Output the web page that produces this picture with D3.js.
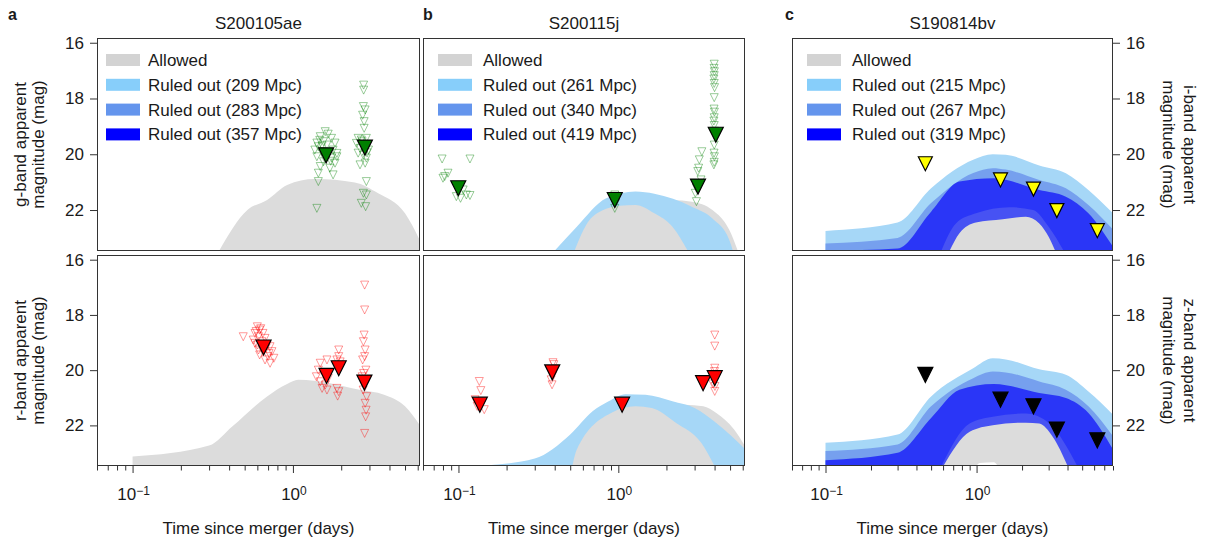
<!DOCTYPE html>
<html>
<head>
<meta charset="utf-8">
<script src="https://cdn.jsdelivr.net/npm/d3@7"></script>
<style>
  body { margin: 0; background: #fff; }
  svg text { font-family: "Liberation Sans", Arial, sans-serif; fill: #1a1a1a; }
</style>
</head>
<body>
<div id="chart"></div>
<script>
// ---------- axes / labels ----------
const magTicks = [16, 18, 20, 22];
const minorTicks = [0.06, 0.07, 0.08, 0.09, 0.2, 0.3, 0.4, 0.5, 0.6, 0.7, 0.8, 0.9, 2, 3, 4, 5, 6, 7, 8];
const majorTicks = [0.1, 1];
const majorExp = ["\u22121", "0"];
const titles = ["S200105ae", "S200115j", "S190814bv"];
const letters = ["a", "b", "c"];
const aDist = [209, 283, 357];
const bDist = [261, 340, 419];
const cDist = [215, 267, 319];

// ---------- a: S200105ae ----------
const aG_allowT = [0.336, 0.52, 0.69, 0.92, 1.37, 2.43, 3.4, 5.0, 6.2];
const aG_allowM = [23.6, 22.0, 21.64, 21.1, 20.89, 21.01, 21.4, 22.12, 23.1];
const aR_allowT = [0.1, 0.3, 0.42, 0.69, 0.92, 1.08, 1.7, 2.6, 3.7, 5.0, 6.2];
const aR_allowM = [23.13, 22.73, 22.03, 20.95, 20.5, 20.35, 20.47, 20.71, 20.89, 21.31, 22.0];

const aG_obsT = [1.59, 1.66, 1.48, 1.74, 1.41, 1.55, 1.83, 1.44, 1.63, 1.37, 1.51, 1.78, 1.88, 1.41, 1.74, 1.55, 1.83, 1.48, 1.70, 1.44, 1.78, 1.44, 1.41, 1.88, 1.63, 1.52, 1.67, 1.58, 1.47, 1.72,
  2.76, 2.76, 2.75, 2.82, 2.78, 2.78, 2.55, 2.67, 2.87, 2.49, 2.82, 2.62, 2.96, 2.55, 2.75, 2.87, 2.62, 2.82, 2.87, 2.75, 2.87, 2.67, 2.84, 2.7, 2.8, 2.72, 2.9];
const aG_obsM = [19.19, 19.28, 19.37, 19.43, 19.6, 19.55, 19.6, 19.73, 19.67, 19.85, 19.9, 19.85, 19.97, 20.09, 20.14, 20.27, 20.32, 20.44, 20.5, 20.68, 20.74, 20.98, 21.94, 20.09, 20.03, 19.7, 19.95, 20.15, 19.5, 20.25,
  17.52, 17.7, 18.29, 18.41, 18.83, 19.07, 19.43, 19.49, 19.43, 19.61, 19.67, 19.79, 19.85, 19.96, 20.03, 20.14, 20.38, 20.32, 20.98, 21.4, 21.46, 21.76, 21.88, 19.55, 19.75, 18.6, 19.95];
const aG_limT = [1.61, 2.81];
const aG_limM = [20.04, 19.76];

const aR_obsT = [0.49, 0.60, 0.62, 0.58, 0.65, 0.61, 0.67, 0.565, 0.64, 0.60, 0.69, 0.72, 0.61, 0.65, 0.74, 0.62, 0.70, 0.76, 0.67, 0.72, 0.58, 0.63, 0.68, 0.59, 0.71,
  1.48, 1.63, 1.44, 1.55, 1.40, 1.66, 1.48, 1.59, 1.52, 1.63,
  1.93, 1.93, 1.88, 1.97, 1.88, 1.93, 1.90,
  2.8, 2.8, 2.78, 2.75, 2.82, 2.8, 2.72, 2.85, 2.76, 2.7, 2.84, 2.78, 2.74, 2.88, 2.82, 2.86, 2.84, 2.8];
const aR_obsM = [18.79, 18.43, 18.55, 18.67, 18.67, 18.79, 18.85, 18.91, 18.97, 19.09, 19.09, 19.15, 19.27, 19.33, 19.33, 19.45, 19.51, 19.57, 19.63, 19.75, 19.03, 18.5, 19.2, 18.6, 19.4,
  19.75, 19.63, 20.0, 20.12, 20.24, 20.3, 20.42, 20.54, 20.66, 20.72,
  19.27, 19.51, 19.63, 19.7, 20.66, 20.78, 20.94,
  16.92, 17.82, 18.73, 18.97, 19.27, 19.51, 19.63, 20.0, 20.12, 20.24, 20.42, 20.54, 20.72, 20.96, 21.2, 21.45, 21.69, 22.29];
const aR_limT = [0.656, 1.62, 1.93, 2.79];
const aR_limM = [19.18, 20.21, 19.93, 20.45];

// ---------- b: S200115j ----------
const bG_allowT = [0.5, 0.69, 1.02, 1.28, 1.68, 2.2, 2.88, 3.88, 4.95, 5.7];
const bG_allowM = [23.6, 22.24, 21.85, 21.82, 21.75, 21.65, 21.7, 22.0, 22.72, 23.6];
const bG_outT = [0.38, 0.55, 0.84, 1.28, 1.68, 2.88, 3.88, 4.95, 5.3];
const bG_outTop = [23.6, 22.6, 21.58, 21.34, 21.42, 21.88, 22.3, 23.08, 23.6];
// allowed region seen below the ruled-out band
const bG_belowT = [0.52, 0.69, 1.02, 1.28, 1.68, 2.18, 2.8];
const bG_belowM = [23.6, 22.24, 21.85, 21.82, 22.12, 22.6, 23.6];

const bR_allowT = [0.51, 0.55, 0.9, 1.28, 1.62, 2.0, 2.6, 3.4, 4.1, 5.3, 6.2];
const bR_allowM = [23.6, 22.87, 21.55, 21.31, 21.3, 21.25, 21.25, 21.31, 21.55, 22.15, 22.75];
const bR_outT = [0.146, 0.3, 0.5, 0.69, 0.87, 1.11, 1.48, 2.18, 3.0, 4.1, 6.2];
const bR_outTop = [23.45, 23.2, 22.33, 21.49, 21.13, 20.87, 20.89, 21.13, 21.37, 21.91, 22.85];
const bR_belowT = [0.51, 0.55, 0.9, 1.28, 1.62, 2.3, 3.3, 4.1];
const bR_belowM = [23.6, 22.87, 21.55, 21.31, 21.37, 21.91, 22.63, 23.6];

const bG_obsT = [0.079, 0.118, 0.082, 0.086, 0.080, 0.107, 0.112, 0.097, 0.118, 0.103,
  0.95, 0.95, 0.96,
  3.98, 3.97, 3.99, 3.98, 3.96, 3.98, 4.0, 3.98, 3.97, 3.99, 3.98, 3.96, 3.98, 4.0, 3.98, 3.97, 3.99, 3.98, 3.96,
  3.33, 3.21, 3.18, 3.14, 3.29, 3.08, 3.03, 3.08];
const bG_obsM = [20.17, 20.17, 20.8, 20.68, 20.86, 21.28, 21.46, 21.52, 21.48, 21.58,
  21.46, 21.94, 21.76,
  16.77, 16.92, 17.04, 17.18, 17.30, 17.46, 17.61, 17.97, 18.38, 18.49, 18.69, 18.81, 18.97, 19.17, 19.67, 19.96, 20.09, 20.29, 20.38,
  19.91, 20.2, 20.5, 20.62, 20.92, 21.22, 21.4, 21.7];
const bG_limT = [0.0997, 0.95, 3.15, 4.07];
const bG_limM = [21.22, 21.64, 21.16, 19.3];

const bR_obsT = [0.135, 0.138, 0.127, 0.131, 0.145, 0.140, 0.39, 0.395, 0.38, 0.385, 0.388, 4.01, 4.01, 4.01, 4.0, 4.02, 4.01, 3.9];
const bR_obsM = [20.41, 20.74, 21.07, 21.31, 21.43, 21.2, 19.73, 19.8, 20.35, 20.53, 20.2, 18.73, 19.13, 19.93, 20.05, 20.59, 20.77, 20.5];
const bR_limT = [0.136, 0.386, 1.056, 3.39, 4.01];
const bR_limM = [21.25, 20.08, 21.25, 20.47, 20.29];

// ---------- c: S190814bv ----------
const cOutT = [0.1, 0.3, 0.5, 0.95, 1.28, 1.56, 2.6, 3.9, 5.5, 8];
const cOut3T = [0.1, 0.3, 0.5, 0.77, 1.3, 2.6, 3.9, 5.5, 8];
const cI_out1 = [22.75, 22.45, 21.22, 20.2, 20.0, 20.02, 20.4, 20.68, 21.28, 22.12];
const cI_out2 = [23.2, 23.0, 21.75, 20.67, 20.5, 20.55, 20.92, 21.22, 21.82, 22.7];
const cI_out3 = [23.46, 23.38, 22.06, 20.98, 20.86, 21.28, 21.52, 22.12, 23.32];
const cI_innerT = [0.57, 0.73, 0.99, 1.65, 2.37, 3.0, 3.9];
const cI_innerM = [23.6, 22.48, 22.12, 21.9, 22.0, 22.6, 23.6];
const cI_allowT = [0.645, 0.77, 0.99, 1.49, 2.12, 2.6, 3.0, 3.4];
const cI_allowM = [23.6, 22.83, 22.45, 22.33, 22.24, 22.48, 22.96, 23.6];

const cZ_out1 = [22.63, 22.33, 20.95, 19.93, 19.57, 19.61, 19.97, 20.17, 20.77, 21.61];
const cZ_out2 = [22.93, 22.69, 21.31, 20.29, 20.05, 20.08, 20.41, 20.71, 21.31, 22.39];
const cZ_out3 = [23.26, 22.99, 21.73, 20.71, 20.5, 20.83, 21.01, 21.55, 22.87];
const cZ_innerT = [0.57, 0.9, 1.28, 2.12, 3.03, 4.78];
const cZ_innerM = [23.6, 21.93, 21.69, 21.57, 21.93, 23.6];
const cZ_allowT = [0.584, 0.9, 1.28, 2.12, 2.6, 3.19, 4.1];
const cZ_allowM = [23.6, 22.23, 21.99, 21.9, 21.93, 22.41, 23.6];
const cZ_gapT = [0.96, 1.05, 1.3, 1.42];
const cZ_gapM = [23.6, 23.36, 23.33, 23.6];

const cLimT = [0.458, 1.44, 2.38, 3.4, 6.3];
const cI_limM = [20.34, 20.92, 21.25, 22.02, 22.74];
const cZ_limM = [20.17, 21.07, 21.31, 22.15, 22.54];

// ---------- colours ----------
const legendColors = ["#d3d3d3", "#87cefa", "#6495ed", "#0000ff"];
const cGrey = "#dcdcdc", cLight = "#a6d7f7", cMid = "#76a0ee", cDark = "#2a36f7", cInner = "#4752f3";

// ---------- layout ----------
const W = 1205, H = 538;
const cols = [
  {left: 97, right: 420, dom: [0.06, 6.2], legX: 106, legTextX: 148, letterX: 8, dist: aDist},
  {left: 423, right: 745, dom: [0.06, 6.2], legX: 438, legTextX: 483, letterX: 423, dist: bDist},
  {left: 792, right: 1113, dom: [0.06, 8], legX: 807, legTextX: 852, letterX: 785, dist: cDist}
];
const rows = [{top: 38, bottom: 251}, {top: 255, bottom: 466}];
const magDomain = [15.83, 23.47];

const svg = d3.select("#chart").append("svg")
  .attr("width", W)
  .attr("height", H);

let clipN = 0;
function drawPanel(ci, ri, fills, obsT, obsM, obsColor, limT, limM, limColor, limSize) {
  const c = cols[ci], r = rows[ri];
  const x = d3.scaleLog().domain(c.dom).range([c.left, c.right]);
  const y = d3.scaleLinear().domain(magDomain).range([r.top, r.bottom]);

  const id = "clip" + (clipN++);
  svg.append("clipPath").attr("id", id).append("rect")
    .attr("x", c.left).attr("y", r.top)
    .attr("width", c.right - c.left).attr("height", r.bottom - r.top);
  const g = svg.append("g").attr("clip-path", `url(#${id})`);

  // model regions, filled down to the faint edge
  const area = d3.area()
    .x(d => x(d[0]))
    .y0(y(23.8))
    .y1(d => y(d[1]))
    .curve(d3.curveMonotoneX);
  fills.forEach(f => {
    g.append("path").datum(d3.zip(f.t, f.m)).attr("d", area).attr("fill", f.color);
  });

  // individual upper limits
  if (obsT) {
    g.selectAll(null).data(d3.zip(obsT, obsM)).enter().append("path")
      .attr("d", "M-4,-4L4,-4L0,4Z")
      .attr("transform", d => `translate(${x(d[0])},${y(d[1])})`)
      .attr("fill", "none")
      .attr("stroke", obsColor)
      .attr("stroke-opacity", 0.4)
      .attr("stroke-width", 1);
  }

  // combined limits
  const h = limSize / 2;
  g.selectAll(null).data(d3.zip(limT, limM)).enter().append("path")
    .attr("d", `M${-h},${-h}L${h},${-h}L0,${h}Z`)
    .attr("transform", d => `translate(${x(d[0])},${y(d[1])})`)
    .attr("fill", limColor)
    .attr("stroke", "#000")
    .attr("stroke-width", 1.2);

  // frame
  svg.append("rect")
    .attr("x", c.left + 0.5).attr("y", r.top + 0.5)
    .attr("width", c.right - c.left - 1).attr("height", r.bottom - r.top - 1)
    .attr("fill", "none").attr("stroke", "#333").attr("stroke-width", 1);

  // y axis
  if (ci === 0 || ci === 2) {
    const ax = ci === 0 ? d3.axisLeft(y) : d3.axisRight(y);
    const ga = svg.append("g")
      .attr("transform", `translate(${ci === 0 ? c.left : c.right},0)`)
      .call(ax.tickValues(magTicks).tickSize(7).tickPadding(6));
    ga.select(".domain").remove();
    ga.selectAll("line").attr("stroke", "#333");
    ga.selectAll("text").attr("font-size", 17).attr("fill", "#1a1a1a");
  }

  // x axis (bottom row)
  if (ri === 1) {
    const minor = minorTicks.filter(v => v >= c.dom[0] && v <= c.dom[1] + 1e-9);
    const gm = svg.append("g").attr("transform", `translate(0,${r.bottom})`)
      .call(d3.axisBottom(x).tickValues(minor).tickSize(4.5).tickFormat(""));
    gm.select(".domain").remove();
    gm.selectAll("line").attr("stroke", "#333");
    const gM = svg.append("g").attr("transform", `translate(0,${r.bottom})`)
      .call(d3.axisBottom(x).tickValues(majorTicks).tickSize(7).tickFormat(""));
    gM.select(".domain").remove();
    gM.selectAll("line").attr("stroke", "#333");
    majorTicks.forEach((v, i) => {
      const t = svg.append("text")
        .attr("x", x(v) + 1).attr("y", 500)
        .attr("text-anchor", "middle")
        .attr("font-size", 17);
      t.append("tspan").text("10");
      t.append("tspan").attr("font-size", 12).attr("dy", -5.5).text(majorExp[i]);
    });
    svg.append("text")
      .attr("x", (c.left + c.right) / 2).attr("y", 534)
      .attr("text-anchor", "middle").attr("font-size", 17)
      .text("Time since merger (days)");
  }

  // legend (top row)
  if (ri === 0) {
    const labels = ["Allowed"].concat(c.dist.map(d => `Ruled out (${d} Mpc)`));
    labels.forEach((lab, i) => {
      svg.append("rect")
        .attr("x", c.legX).attr("y", 54 + i * 24.8)
        .attr("width", 34).attr("height", 12)
        .attr("fill", legendColors[i]);
      svg.append("text")
        .attr("x", c.legTextX).attr("y", 66 + i * 24.8)
        .attr("font-size", 17)
        .text(lab);
    });
    svg.append("text")
      .attr("x", (c.left + c.right) / 2).attr("y", 29)
      .attr("text-anchor", "middle").attr("font-size", 17)
      .text(titles[ci]);
    svg.append("text")
      .attr("x", c.letterX).attr("y", 20)
      .attr("font-size", 16).attr("font-weight", "bold")
      .text(letters[ci]);
  }
}

// panel a
drawPanel(0, 0, [{t: aG_allowT, m: aG_allowM, color: cGrey}], aG_obsT, aG_obsM, "#008000", aG_limT, aG_limM, "#008000", 15);
drawPanel(0, 1, [{t: aR_allowT, m: aR_allowM, color: cGrey}], aR_obsT, aR_obsM, "#ff0000", aR_limT, aR_limM, "#ff0000", 15);
// panel b
drawPanel(1, 0, [
  {t: bG_allowT, m: bG_allowM, color: cGrey},
  {t: bG_outT, m: bG_outTop, color: cLight},
  {t: bG_belowT, m: bG_belowM, color: cGrey}
], bG_obsT, bG_obsM, "#008000", bG_limT, bG_limM, "#008000", 15);
drawPanel(1, 1, [
  {t: bR_allowT, m: bR_allowM, color: cGrey},
  {t: bR_outT, m: bR_outTop, color: cLight},
  {t: bR_belowT, m: bR_belowM, color: cGrey}
], bR_obsT, bR_obsM, "#ff0000", bR_limT, bR_limM, "#ff0000", 15);
// panel c
drawPanel(2, 0, [
  {t: cOutT, m: cI_out1, color: cLight},
  {t: cOutT, m: cI_out2, color: cMid},
  {t: cOut3T, m: cI_out3, color: cDark},
  {t: cI_innerT, m: cI_innerM, color: cInner},
  {t: cI_allowT, m: cI_allowM, color: cGrey}
], null, null, null, cLimT, cI_limM, "#ffff00", 14);
drawPanel(2, 1, [
  {t: cOutT, m: cZ_out1, color: cLight},
  {t: cOutT, m: cZ_out2, color: cMid},
  {t: cOut3T, m: cZ_out3, color: cDark},
  {t: cZ_innerT, m: cZ_innerM, color: cInner},
  {t: cZ_allowT, m: cZ_allowM, color: cGrey},
  {t: cZ_gapT, m: cZ_gapM, color: "#ffffff"}
], null, null, null, cLimT, cZ_limM, "#000000", 15);

// y axis titles
[[0, "g-band apparent"], [1, "r-band apparent"]].forEach(([ri, lab]) => {
  const cy = (rows[ri].top + rows[ri].bottom) / 2;
  svg.append("text").attr("transform", `translate(25.5,${cy}) rotate(-90)`)
    .attr("text-anchor", "middle").attr("font-size", 17).text(lab);
  svg.append("text").attr("transform", `translate(44,${cy}) rotate(-90)`)
    .attr("text-anchor", "middle").attr("font-size", 17).text("magnitude (mag)");
});
[[0, "i-band apparent"], [1, "z-band apparent"]].forEach(([ri, lab]) => {
  const cy = (rows[ri].top + rows[ri].bottom) / 2;
  svg.append("text").attr("transform", `translate(1184,${cy}) rotate(90)`)
    .attr("text-anchor", "middle").attr("font-size", 17).text(lab);
  svg.append("text").attr("transform", `translate(1162.5,${cy}) rotate(90)`)
    .attr("text-anchor", "middle").attr("font-size", 17).text("magnitude (mag)");
});
</script>
</body>
</html>
